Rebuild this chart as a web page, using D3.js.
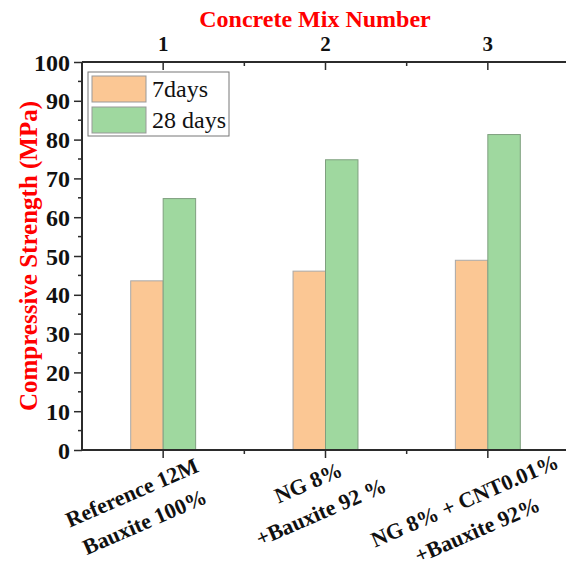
<!DOCTYPE html>
<html>
<head>
<meta charset="utf-8">
<script src="https://cdn.jsdelivr.net/npm/d3@7"></script>
<style>
  html, body { margin: 0; padding: 0; background: #fff; }
  svg { display: block; font-family: "Liberation Serif", "Times New Roman", serif; }
</style>
</head>
<body>
<svg id="chart" width="566" height="568"></svg>
<script>
const mixNumbers = [1, 2, 3];
const mixLabels = [
  ["Reference 12M", "Bauxite 100%"],
  ["NG 8%", "+Bauxite 92 %"],
  ["NG 8% + CNT0.01%", "+Bauxite 92%"],
];
const series = ["7days", "28 days"];
const strength7 = [43.6, 46.1, 48.9];
const strength28 = [64.8, 74.8, 81.3];
const yTicks = [0, 10, 20, 30, 40, 50, 60, 70, 80, 90, 100];

const width = 566;
const height = 568;
const margin = { top: 62, right: -3, bottom: 118, left: 82 };
const barWidth = 0.2;
const colors = ["#fbc794", "#9fd89f"];
const axisColor = "#2b2b2b";
// per-label nudges for the rotated category names (center of each block)
const labelShift = [[-25, 57], [-11, 47], [-17, 65]];

const svg = d3.select("#chart");

const x = d3.scaleLinear()
  .domain([0.5, 3.5])
  .range([margin.left, width - margin.right]);

const y = d3.scaleLinear()
  .domain([0, 100])
  .range([height - margin.bottom, margin.top]);

const x0 = y(0);

// bars
const rows = mixNumbers.map((m, i) => ({ m, v: [strength7[i], strength28[i]] }));
const barG = svg.append("g");
rows.forEach((r) => {
  r.v.forEach((v, s) => {
    barG.append("rect")
      .attr("x", s === 0 ? x(r.m - barWidth) : x(r.m))
      .attr("y", y(v))
      .attr("width", x(r.m + barWidth) - x(r.m))
      .attr("height", y(0) - y(v))
      .attr("fill", colors[s])
      .attr("stroke", s === 0 ? "#a8a8a8" : "#7f9f7f")
      .attr("stroke-width", 1);
  });
});

// left axis: major + minor ticks outward
const yAxis = d3.axisLeft(y).tickValues(yTicks).tickSize(8).tickPadding(4);
const yg = svg.append("g")
  .attr("transform", `translate(${margin.left},0)`)
  .call(yAxis);
yg.selectAll("line").attr("stroke", axisColor).attr("stroke-width", 1.5);
yg.select(".domain").remove();
yg.selectAll("text")
  .attr("fill", "#111")
  .attr("font-size", 24)
  .attr("font-weight", "bold")
  .attr("dy", "0.34em")
  .attr("font-family", "Liberation Serif");

svg.append("g")
  .attr("transform", `translate(${margin.left},0)`)
  .selectAll("line")
  .data(d3.range(5, 100, 10))
  .join("line")
  .attr("x1", -4)
  .attr("x2", 0)
  .attr("y1", (d) => y(d))
  .attr("y2", (d) => y(d))
  .attr("stroke", axisColor)
  .attr("stroke-width", 1.5);

// bottom axis
const bottomG = svg.append("g");
bottomG.selectAll("line.major")
  .data(mixNumbers)
  .join("line")
  .attr("x1", (d) => x(d))
  .attr("x2", (d) => x(d))
  .attr("y1", x0)
  .attr("y2", x0 + 8)
  .attr("stroke", axisColor)
  .attr("stroke-width", 1.5);
bottomG.selectAll("line.minor")
  .data([1.5, 2.5])
  .join("line")
  .attr("x1", (d) => x(d))
  .attr("x2", (d) => x(d))
  .attr("y1", x0)
  .attr("y2", x0 + 4)
  .attr("stroke", axisColor)
  .attr("stroke-width", 1.5);

mixLabels.forEach((lines, i) => {
  const g = svg.append("g")
    .attr("transform", `translate(${x(mixNumbers[i]) + labelShift[i][0]},${x0 + labelShift[i][1]}) rotate(-23.5)`);
  lines.forEach((t, k) => {
    g.append("text")
      .attr("text-anchor", "middle")
      .attr("y", (k - 0.5) * 32)
      .attr("dy", "0.35em")
      .attr("font-size", 22)
      .attr("font-weight", "bold")
      .attr("fill", "#111")
      .text(t);
  });
});

// top axis
const topG = svg.append("g");
topG.selectAll("line.major")
  .data(mixNumbers)
  .join("line")
  .attr("x1", (d) => x(d))
  .attr("x2", (d) => x(d))
  .attr("y1", margin.top)
  .attr("y2", margin.top + 8)
  .attr("stroke", axisColor)
  .attr("stroke-width", 1.5);
topG.selectAll("line.minor")
  .data([1.5, 2.5])
  .join("line")
  .attr("x1", (d) => x(d))
  .attr("x2", (d) => x(d))
  .attr("y1", margin.top)
  .attr("y2", margin.top + 4)
  .attr("stroke", axisColor)
  .attr("stroke-width", 1.5);
topG.selectAll("text")
  .data(mixNumbers)
  .join("text")
  .attr("x", (d) => x(d))
  .attr("y", margin.top - 11)
  .attr("text-anchor", "middle")
  .attr("font-size", 21)
  .attr("font-weight", "bold")
  .attr("fill", "#111")
  .text((d) => d);

// axis lines
svg.append("line")
  .attr("x1", margin.left).attr("x2", margin.left)
  .attr("y1", margin.top).attr("y2", x0)
  .attr("stroke", axisColor).attr("stroke-width", 2);
svg.append("line")
  .attr("x1", margin.left).attr("x2", width)
  .attr("y1", x0).attr("y2", x0)
  .attr("stroke", axisColor).attr("stroke-width", 2);
svg.append("line")
  .attr("x1", margin.left).attr("x2", width)
  .attr("y1", margin.top).attr("y2", margin.top)
  .attr("stroke", axisColor).attr("stroke-width", 2);

// titles
svg.append("text")
  .attr("x", 315)
  .attr("y", 27)
  .attr("text-anchor", "middle")
  .attr("font-size", 24)
  .attr("font-weight", "bold")
  .attr("fill", "#ff0000")
  .text("Concrete Mix Number");

svg.append("text")
  .attr("transform", `translate(37,${(margin.top + x0) / 2}) rotate(-90)`)
  .attr("text-anchor", "middle")
  .attr("font-size", 25)
  .attr("font-weight", "bold")
  .attr("fill", "#ff0000")
  .text("Compressive Strength (MPa)");

// legend
const legend = svg.append("g").attr("transform", "translate(88,72)");
legend.append("rect")
  .attr("width", 141)
  .attr("height", 64)
  .attr("fill", "#fff")
  .attr("stroke", "#777")
  .attr("stroke-width", 1);
series.forEach((name, i) => {
  legend.append("rect")
    .attr("x", 4)
    .attr("y", 4 + i * 31)
    .attr("width", 54)
    .attr("height", 26)
    .attr("fill", colors[i])
    .attr("stroke", "#999")
    .attr("stroke-width", 1);
  legend.append("text")
    .attr("x", 64)
    .attr("y", 25 + i * 31)
    .attr("font-size", 24)
    .attr("fill", "#111")
    .text(name);
});
</script>
</body>
</html>
